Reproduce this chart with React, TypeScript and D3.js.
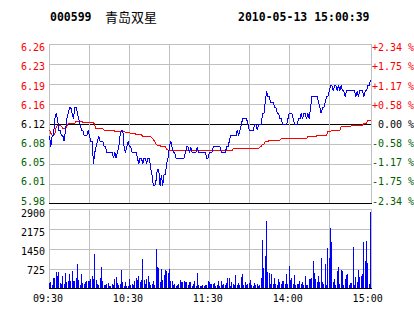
import React from 'react';
import * as d3 from 'd3';

const stockCode = '000599';
const stockName = '青岛双星';
const timestamp = '2010-05-13 15:00:39';
const prevClose = 6.12;
const pctRange = 2.34;
const volMax = 2900;

const priceTicks = ['6.26', '6.23', '6.19', '6.16', '6.12', '6.08', '6.05', '6.01', '5.98'];
const pctTicks = ['+2.34 %', '+1.75 %', '+1.17 %', '+0.58 %', ' 0.00 %', '-0.58 %', '-1.17 %', '-1.75 %', '-2.34 %'];
const volTicks = ['2900', '2175', '1450', '725'];
const timeLabels = ['09:30', '10:30', '11:30', '14:00', '15:00'];
const timeLabelIdx = [0, 60, 120, 180, 240];

const price = [
  6.10, 6.08, 6.10, 6.10, 6.13, 6.14, 6.13, 6.11, 6.11, 6.10,
  6.10, 6.09, 6.11, 6.13, 6.14, 6.15, 6.15, 6.14, 6.13, 6.15,
  6.15, 6.14, 6.13, 6.12, 6.11, 6.11, 6.10, 6.10, 6.10, 6.11,
  6.10, 6.09, 6.09, 6.05, 6.07, 6.08, 6.09, 6.10, 6.09, 6.09,
  6.09, 6.08, 6.08, 6.07, 6.07, 6.07, 6.07, 6.07, 6.06, 6.07,
  6.06, 6.07, 6.08, 6.10, 6.11, 6.11, 6.08, 6.07, 6.08, 6.09,
  6.08, 6.08, 6.07, 6.07, 6.07, 6.07, 6.06, 6.05, 6.06, 6.06,
  6.05, 6.06, 6.06, 6.05, 6.06, 6.06, 6.04, 6.03, 6.01, 6.01,
  6.02, 6.04, 6.04, 6.01, 6.03, 6.01, 6.03, 6.03, 6.05, 6.06,
  6.08, 6.09, 6.08, 6.07, 6.07, 6.06, 6.06, 6.06, 6.06, 6.06,
  6.06, 6.06, 6.07, 6.08, 6.08, 6.07, 6.08, 6.07, 6.07, 6.07,
  6.07, 6.08, 6.07, 6.07, 6.07, 6.07, 6.07, 6.07, 6.06, 6.06,
  6.07, 6.07, 6.07, 6.08, 6.08, 6.08, 6.08, 6.08, 6.08, 6.07,
  6.07, 6.07, 6.07, 6.08, 6.08, 6.09, 6.10, 6.10, 6.10, 6.10,
  6.10, 6.11, 6.10, 6.11, 6.12, 6.13, 6.13, 6.13, 6.13, 6.12,
  6.11, 6.11, 6.11, 6.11, 6.12, 6.12, 6.11, 6.12, 6.12, 6.12,
  6.14, 6.14, 6.16, 6.18, 6.17, 6.17, 6.16, 6.16, 6.16, 6.15,
  6.15, 6.14, 6.14, 6.13, 6.13, 6.12, 6.12, 6.12, 6.12, 6.13,
  6.14, 6.14, 6.14, 6.13, 6.12, 6.12, 6.12, 6.13, 6.13, 6.14,
  6.13, 6.14, 6.14, 6.13, 6.14, 6.13, 6.15, 6.17, 6.17, 6.17,
  6.17, 6.17, 6.16, 6.15, 6.14, 6.15, 6.15, 6.16, 6.17, 6.17,
  6.18, 6.19, 6.19, 6.18, 6.19, 6.19, 6.18, 6.19, 6.18, 6.19,
  6.18, 6.18, 6.17, 6.18, 6.18, 6.18, 6.18, 6.18, 6.18, 6.18,
  6.17, 6.18, 6.17, 6.18, 6.18, 6.18, 6.17, 6.18, 6.18, 6.19,
  6.19, 6.20,
];

const avgPrice = [
  6.110, 6.104, 6.101, 6.101, 6.103, 6.115, 6.119, 6.119, 6.119, 6.117,
  6.113, 6.113, 6.113, 6.117, 6.122, 6.122, 6.122, 6.122, 6.122, 6.122,
  6.126, 6.126, 6.126, 6.126, 6.126, 6.124, 6.124, 6.124, 6.124, 6.124,
  6.124, 6.124, 6.124, 6.124, 6.119, 6.112, 6.112, 6.112, 6.112, 6.112,
  6.112, 6.110, 6.110, 6.110, 6.110, 6.110, 6.110, 6.110, 6.110, 6.108,
  6.108, 6.108, 6.108, 6.108, 6.108, 6.108, 6.108, 6.106, 6.106, 6.106,
  6.106, 6.104, 6.104, 6.104, 6.104, 6.102, 6.102, 6.102, 6.102, 6.102,
  6.098, 6.098, 6.098, 6.098, 6.098, 6.098, 6.098, 6.096, 6.093, 6.089,
  6.085, 6.083, 6.083, 6.083, 6.080, 6.080, 6.080, 6.080, 6.076, 6.074,
  6.074, 6.074, 6.074, 6.074, 6.074, 6.074, 6.074, 6.074, 6.074, 6.073,
  6.073, 6.073, 6.073, 6.073, 6.073, 6.073, 6.073, 6.073, 6.073, 6.073,
  6.073, 6.073, 6.073, 6.073, 6.073, 6.073, 6.073, 6.073, 6.073, 6.073,
  6.073, 6.073, 6.073, 6.073, 6.073, 6.073, 6.073, 6.073, 6.073, 6.073,
  6.073, 6.073, 6.073, 6.073, 6.073, 6.073, 6.073, 6.073, 6.077, 6.077,
  6.077, 6.077, 6.077, 6.077, 6.077, 6.077, 6.077, 6.077, 6.077, 6.077,
  6.077, 6.077, 6.077, 6.077, 6.077, 6.077, 6.077, 6.077, 6.080, 6.080,
  6.085, 6.085, 6.089, 6.089, 6.089, 6.092, 6.092, 6.092, 6.092, 6.092,
  6.092, 6.092, 6.092, 6.092, 6.095, 6.095, 6.095, 6.095, 6.095, 6.095,
  6.095, 6.095, 6.095, 6.095, 6.095, 6.095, 6.095, 6.095, 6.095, 6.095,
  6.095, 6.095, 6.095, 6.095, 6.098, 6.098, 6.098, 6.098, 6.098, 6.098,
  6.098, 6.101, 6.101, 6.101, 6.101, 6.101, 6.101, 6.101, 6.101, 6.107,
  6.107, 6.107, 6.110, 6.110, 6.110, 6.110, 6.110, 6.110, 6.110, 6.116,
  6.116, 6.116, 6.116, 6.116, 6.116, 6.116, 6.116, 6.119, 6.119, 6.119,
  6.119, 6.119, 6.119, 6.119, 6.119, 6.119, 6.122, 6.122, 6.122, 6.128,
  6.128, 6.128,
];

const volume = [
  205, 242, 145, 387, 387, 628, 483, 628, 205, 181,
  483, 169, 568, 266, 290, 544, 290, 652, 290, 290,
  387, 906, 326, 145, 544, 205, 181, 242, 290, 290,
  290, 362, 483, 362, 1268, 326, 181, 145, 387, 797,
  290, 145, 145, 181, 217, 109, 109, 181, 145, 362,
  435, 205, 145, 181, 689, 242, 109, 242, 109, 109,
  362, 145, 181, 145, 290, 387, 326, 471, 242, 326,
  1087, 326, 181, 362, 471, 242, 145, 181, 290, 145,
  1450, 797, 773, 242, 725, 326, 507, 689, 664, 580,
  725, 290, 290, 145, 181, 109, 145, 181, 326, 266,
  266, 290, 266, 266, 145, 266, 266, 109, 181, 290,
  109, 580, 145, 109, 109, 145, 109, 145, 145, 290,
  242, 181, 181, 181, 217, 109, 145, 290, 109, 290,
  145, 181, 145, 205, 411, 411, 109, 242, 181, 145,
  507, 145, 205, 145, 447, 544, 145, 242, 145, 181,
  205, 326, 145, 109, 205, 145, 181, 109, 145, 411,
  1776, 773, 1196, 2476, 604, 592, 181, 544, 181, 411,
  181, 145, 350, 242, 181, 290, 290, 181, 544, 181,
  833, 326, 387, 181, 507, 145, 181, 181, 290, 181,
  242, 145, 471, 145, 145, 362, 362, 411, 1015, 580,
  362, 242, 471, 242, 1136, 242, 181, 906, 145, 1474,
  1136, 2223, 1715, 242, 362, 145, 652, 809, 181, 689,
  664, 145, 362, 507, 544, 145, 205, 205, 1522, 145,
  447, 242, 689, 447, 471, 544, 1715, 1015, 1752, 930,
  169, 2790,
];

const RED = '#ff0000';
const GREEN = '#006000';
const GRID = '#c0c0c0';
const MONO = '"DejaVu Sans Mono", "Liberation Mono", monospace';

export default function App() {
  const W = 414;
  const H = 314;
  const left = 49;
  const right = 371;
  const pTop = 44;
  const pBot = 204;
  const vTop = 209;
  const vBot = 289;

  const n = price.length;
  const x = d3.scaleLinear().domain([0, n - 1]).range([left + 0.5, right - 0.5]);
  const span = (prevClose * pctRange) / 100;
  const y = d3.scaleLinear().domain([prevClose - span, prevClose + span]).range([pBot + 0.5, pTop + 0.5]);
  const yv = d3.scaleLinear().domain([0, volMax]).range([vBot + 0.5, vTop + 0.5]);

  const priceLine = d3.line<number>().x((_, i) => x(i)).y((d) => y(d));

  const priceGrid = d3.range(9).map((k) => prevClose + span * (1 - k / 4));
  const volGrid = d3.range(5).map((k) => volMax * (1 - k / 4));
  const vertIdx = d3.range(0, 211, 30);

  const priceLabelY = d3.scaleLinear().domain([0, 8]).range([47.7, 201]);
  const volLabelY = d3.scaleLinear().domain([0, 3]).range([213.3, 270.7]);

  const labelColor = (k: number) => (k < 4 ? RED : k === 4 ? '#000' : GREEN);

  return (
    <svg width={W} height={H} style={{ position: 'absolute', left: 0, top: 0, background: '#fff' }}>
      <rect x={0} y={0} width={W} height={H} fill="#fff" />
      {/* header */}
      <text x={50} y={21} fontFamily={MONO} fontWeight="bold" fontSize={11.5} fill="#000">{stockCode}</text>
      <text x={105} y={21.5} fontFamily='"Noto Sans CJK SC", sans-serif' fontSize={13} fill="#000">{stockName}</text>
      <text x={238} y={21} fontFamily={MONO} fontWeight="bold" fontSize={11.5} fill="#000">{timestamp}</text>

      <g shapeRendering="crispEdges">
        {/* price grid */}
        {priceGrid.map((v, k) => {
          const yy = Math.min(y(v), pBot - 0.5);
          const dark = k === 4 || k === 8;
          return <line key={'pg' + k} x1={left} x2={right + 1} y1={yy} y2={yy} stroke={dark ? '#000' : GRID} strokeWidth={1} />;
        })}
        {vertIdx.map((i) => {
          const xx = Math.floor(x(i)) + 0.5;
          return <line key={'pv' + i} x1={xx} x2={xx} y1={pTop} y2={pBot - 1} stroke={GRID} />;
        })}
        <line x1={right + 0.5} x2={right + 0.5} y1={pTop} y2={pBot - 1} stroke={GRID} />

        {/* volume grid */}
        {volGrid.map((v, k) => {
          const yy = Math.min(yv(v), vBot - 0.5);
          return <line key={'vg' + k} x1={left} x2={right + 1} y1={yy} y2={yy} stroke={k === 4 ? '#000' : GRID} />;
        })}
        {vertIdx.map((i) => {
          const xx = Math.floor(x(i)) + 0.5;
          return <line key={'vv' + i} x1={xx} x2={xx} y1={vTop} y2={vBot - 1} stroke={GRID} />;
        })}
        <line x1={right + 0.5} x2={right + 0.5} y1={vTop} y2={vBot - 1} stroke={GRID} />

        {/* volume bars */}
        {volume.map((v, i) => {
          const top = Math.round(yv(v) - 0.5);
          return <rect key={'b' + i} x={Math.floor(x(i))} y={top} width={1} height={Math.max(0, vBot - 1 - top)} fill="#0000ff" />;
        })}

        {/* lines */}
        <path d={priceLine(avgPrice) || ''} fill="none" stroke={RED} strokeWidth={1} />
        <path d={priceLine(price) || ''} fill="none" stroke="#0000ff" strokeWidth={1} />
      </g>

      {/* left price labels */}
      {priceTicks.map((t, k) => (
        <text key={'pl' + k} x={45} y={priceLabelY(k) + 3.6} textAnchor="end" fontFamily={MONO} fontSize={10} fill={labelColor(k)}>{t}</text>
      ))}
      {/* right pct labels */}
      {pctTicks.map((t, k) => (
        <text key={'pr' + k} x={372} y={priceLabelY(k) + 3.6} fontFamily={MONO} fontSize={10} fill={labelColor(k)} style={{ whiteSpace: 'pre' }}>{t}</text>
      ))}
      {/* volume labels */}
      {volTicks.map((t, k) => (
        <text key={'vl' + k} x={45} y={volLabelY(k) + 3.6} textAnchor="end" fontFamily={MONO} fontSize={10} fill="#000">{t}</text>
      ))}
      {/* time labels */}
      {timeLabels.map((t, k) => (
        <text key={'tl' + k} x={x(timeLabelIdx[k]) - 1.5} y={301.5} textAnchor="middle" fontFamily={MONO} fontSize={10} fill="#000">{t}</text>
      ))}
    </svg>
  );
}
